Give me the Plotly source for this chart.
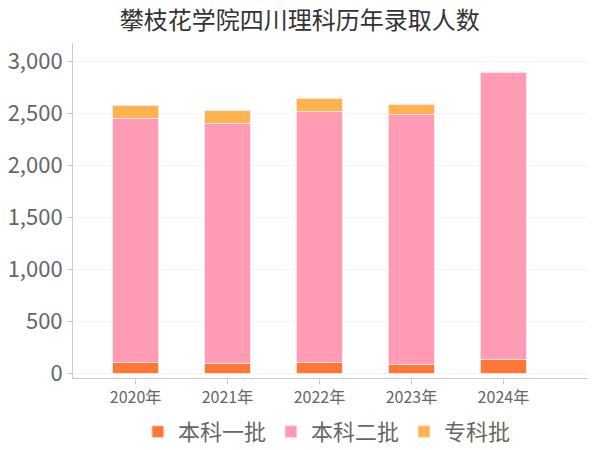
import plotly.graph_objects as go

years = ["2020年", "2021年", "2022年", "2023年", "2024年"]
batch1 = [102, 92, 102, 83, 131]
batch2 = [2352, 2314, 2420, 2410, 2762]
zhuanke = [119, 119, 125, 92, 0]

series = [("本科一批", batch1, "#ff7733"), ("本科二批", batch2, "#ff9bb5"), ("专科批", zhuanke, "#ffb34f")]

fig = go.Figure()
for name, vals, col in series:
    fig.add_trace(go.Bar(x=years, y=vals, name=name, marker=dict(color=col, line=dict(color="rgba(255,230,235,0.9)", width=1)), width=0.5))

font = "Noto Sans CJK SC, sans-serif"
fig.update_layout(
    barmode="stack",
    width=592, height=442,
    margin=dict(l=65, r=12, t=35, b=72, autoexpand=False),
    paper_bgcolor="white", plot_bgcolor="white",
    font=dict(family=font, color="#666666"),
    title=dict(text="攀枝花学院四川理科历年录取人数", x=0.493, xanchor="center", y=0.972, yanchor="middle",
               font=dict(size=24, color="#333333", family=font)),
    showlegend=True,
    legend=dict(orientation="h", x=0.493, xanchor="center", yref="container", y=0.041, yanchor="middle",
                font=dict(size=22, color="#666666"), itemwidth=30, traceorder="normal"),
    xaxis=dict(range=[-0.68, 4.92], showline=True, linecolor="#cccccc", ticks="outside", tickcolor="#cccccc",
               ticklen=5, tickfont=dict(size=16, color="#666666"), showgrid=False, automargin=False),
    yaxis=dict(range=[-48, 3180], showline=True, linecolor="#cccccc", ticks="outside", tickcolor="#cccccc",
               ticklen=5, tickvals=[0, 500, 1000, 1500, 2000, 2500, 3000], tickformat=",",
               tickfont=dict(size=22, color="#666666"), gridcolor="#f3f3f3", zeroline=False, automargin=False),
)
fig.write_html("out.html")
